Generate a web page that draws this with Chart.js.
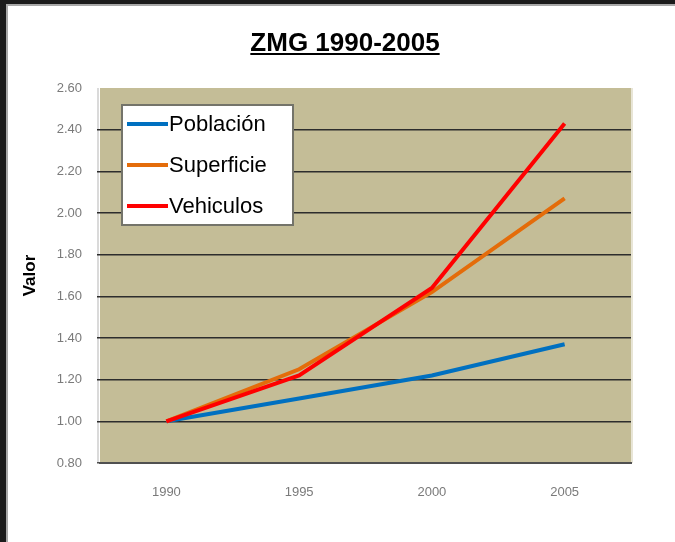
<!DOCTYPE html>
<html>
<head>
<meta charset="utf-8">
<script src="https://cdn.jsdelivr.net/npm/chart.js@4.4.0/dist/chart.umd.min.js"></script>
<style>
  html, body { margin: 0; padding: 0; background: #fff; }
  canvas { display: block; }
</style>
</head>
<body>
<canvas id="chart" width="675" height="542"></canvas>
<script>
const years = ['1990', '1995', '2000', '2005'];
const poblacion = [1.00, 1.11, 1.22, 1.37];
const superficie = [1.00, 1.25, 1.62, 2.07];
const vehiculos = [1.00, 1.22, 1.64, 2.43];
const seriesNames = ['Población', 'Superficie', 'Vehiculos'];
const chartTitle = 'ZMG 1990-2005';
const yTitle = 'Valor';

const FONT = '"Liberation Sans", Arial, sans-serif';
Chart.defaults.font.family = FONT;

// dark frame + tan plot background
const framePlugin = {
    id: 'frame',
    beforeDraw(chart) {
        const ctx = chart.ctx, a = chart.chartArea;
        const w = chart.width, h = chart.height;
        ctx.save();
        ctx.fillStyle = '#1b1b1b'; ctx.fillRect(0, 0, w, h);
        ctx.fillStyle = '#a8a8a8'; ctx.fillRect(6, 4, w, h);
        ctx.fillStyle = '#ffffff'; ctx.fillRect(8, 6, w, h);
        ctx.fillStyle = '#c4bd97';
        ctx.fillRect(a.left, a.top, a.right - a.left, a.bottom - a.top);
        ctx.fillStyle = '#dadada';
        ctx.fillRect(a.left - 3, a.top, 2, a.bottom - a.top);
        ctx.fillStyle = '#e8e5d6';
        ctx.fillRect(a.right, a.top, 2, a.bottom - a.top);
        ctx.restore();
    },
    afterDraw(chart) {
        const ctx = chart.ctx;
        ctx.save();
        ctx.font = 'bold 26px ' + FONT;
        ctx.fillStyle = '#000';
        ctx.textAlign = 'center';
        ctx.textBaseline = 'alphabetic';
        const cx = 345, by = 51;
        ctx.fillText(chartTitle, cx, by);
        const tw = ctx.measureText(chartTitle).width;
        ctx.fillRect(cx - tw / 2, by + 2, tw, 2);
        ctx.restore();
    }
};

// legend box inside the plot, top-left
const insideLegend = {
    id: 'insideLegend',
    afterDatasetsDraw(chart) {
        const ctx = chart.ctx, a = chart.chartArea;
        const x = a.left + 22, y = a.top + 17, w = 171, h = 120;
        ctx.save();
        ctx.fillStyle = '#fff'; ctx.fillRect(x, y, w, h);
        ctx.strokeStyle = '#74746a'; ctx.lineWidth = 2; ctx.strokeRect(x, y, w, h);
        ctx.font = '22px ' + FONT;
        ctx.textBaseline = 'middle';
        chart.data.datasets.forEach((ds, i) => {
            const ly = y + 19 + i * 41;
            ctx.strokeStyle = ds.borderColor; ctx.lineWidth = 4;
            ctx.beginPath(); ctx.moveTo(x + 5, ly); ctx.lineTo(x + 46, ly); ctx.stroke();
            ctx.fillStyle = '#000';
            ctx.fillText(ds.label, x + 47, ly + 1);
        });
        ctx.restore();
    }
};

const ctx = document.getElementById('chart').getContext('2d');
new Chart(ctx, {
    type: 'line',
    data: {
        labels: years,
        datasets: [
            { label: seriesNames[0], data: poblacion, borderColor: '#0070c0', order: 2 },
            { label: seriesNames[1], data: superficie, borderColor: '#e46c0a', order: 1 },
            { label: seriesNames[2], data: vehiculos, borderColor: '#ff0000', order: 0 }
        ]
    },
    options: {
        responsive: false,
        animation: false,
        devicePixelRatio: 1,
        layout: { padding: { top: 88, right: 44, left: 0, bottom: 0 } },
        elements: {
            line: { borderWidth: 4, tension: 0, fill: false },
            point: { radius: 0, hoverRadius: 0 }
        },
        plugins: {
            legend: { display: false },
            title: { display: false },
            tooltip: { enabled: false }
        },
        scales: {
            x: {
                offset: true,
                grid: { display: false },
                border: { display: true, color: '#505050', width: 2 },
                ticks: { color: '#7a7a7a', font: { size: 13 }, padding: 14 },
                afterFit(scale) { scale.height = 79; }
            },
            y: {
                min: 0.8,
                max: 2.6,
                ticks: {
                    stepSize: 0.2,
                    color: '#7a7a7a',
                    font: { size: 13 },
                    padding: 15,
                    callback: v => v.toFixed(2)
                },
                grid: {
                    tickLength: 3,
                    lineWidth: 1.5,
                    color: c => c.index === 10 - 1 ? 'rgba(0,0,0,0)' : (c.index === 0 ? '#505050' : '#2d2d2d')
                },
                border: { display: false },
                title: {
                    display: true,
                    text: yTitle,
                    color: '#000',
                    font: { size: 17, weight: 'bold' },
                    padding: { top: 20, bottom: 0 }
                },
                afterFit(scale) { scale.width = 100; }
            }
        }
    },
    plugins: [framePlugin, insideLegend]
});
</script>
</body>
</html>
